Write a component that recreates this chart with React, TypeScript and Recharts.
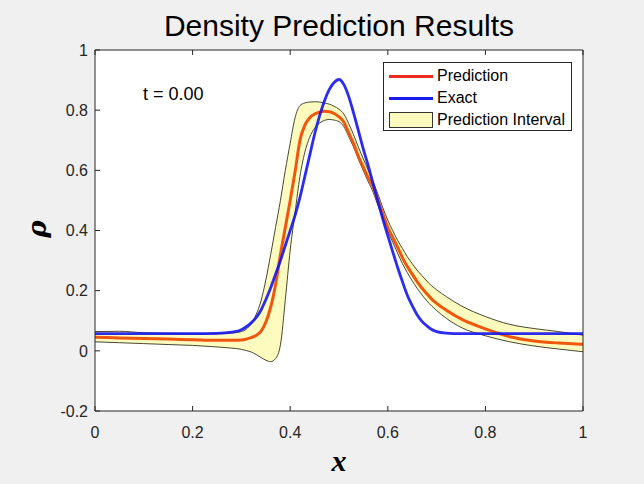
import {
  ComposedChart,
  Line,
  Area,
  XAxis,
  YAxis,
  CartesianGrid,
} from "recharts";

const xs = [
  0, 0.05, 0.1, 0.15, 0.2, 0.25, 0.28,
  0.3, 0.31, 0.32, 0.33, 0.34, 0.35, 0.36, 0.37, 0.38, 0.39,
  0.4, 0.41, 0.42, 0.43, 0.44, 0.45, 0.46, 0.47, 0.48, 0.49,
  0.5, 0.51, 0.52, 0.53, 0.54, 0.55, 0.56, 0.57, 0.58, 0.59,
  0.6, 0.61, 0.62, 0.63, 0.64, 0.65, 0.66, 0.67, 0.68, 0.69,
  0.7, 0.72, 0.75, 0.8, 0.85, 0.9, 0.95, 1,
];

const exact = [
  0.057, 0.057, 0.057, 0.057, 0.057, 0.058, 0.062,
  0.07, 0.08, 0.093, 0.11, 0.135, 0.17, 0.21, 0.255, 0.3, 0.35,
  0.4, 0.45, 0.51, 0.58, 0.65, 0.72, 0.78, 0.83, 0.868, 0.892,
  0.902, 0.885, 0.845, 0.79, 0.73, 0.67, 0.615, 0.555, 0.495, 0.437,
  0.383, 0.33, 0.278, 0.23, 0.185, 0.15, 0.12, 0.098, 0.083, 0.071,
  0.064, 0.059, 0.057, 0.057, 0.057, 0.057, 0.057, 0.057,
];

const prediction = [
  0.045, 0.043, 0.041, 0.039, 0.037, 0.035, 0.035,
  0.036, 0.039, 0.044, 0.051, 0.065, 0.095, 0.145, 0.22, 0.32, 0.41,
  0.5, 0.595, 0.7, 0.75, 0.775, 0.787, 0.793, 0.796, 0.795, 0.789,
  0.778, 0.76, 0.725, 0.688, 0.645, 0.61, 0.575, 0.545, 0.5, 0.455,
  0.41, 0.377, 0.345, 0.31, 0.28, 0.255, 0.23, 0.208, 0.19, 0.172,
  0.158, 0.135, 0.106, 0.073, 0.047, 0.033, 0.026, 0.022,
];

const lower = [
  0.03, 0.027, 0.024, 0.021, 0.018, 0.013, 0.009,
  0.005, 0.001, -0.004, -0.012, -0.022, -0.031, -0.036, -0.026, 0.02, 0.17,
  0.335, 0.46, 0.58, 0.66, 0.71, 0.74, 0.757, 0.766, 0.769, 0.767,
  0.762, 0.745, 0.712, 0.677, 0.636, 0.598, 0.562, 0.527, 0.482, 0.44,
  0.398, 0.362, 0.325, 0.29, 0.26, 0.233, 0.208, 0.186, 0.166, 0.149,
  0.134, 0.108, 0.078, 0.05, 0.03, 0.016, 0.006, -0.003,
];

const upper = [
  0.064, 0.065, 0.06, 0.058, 0.057, 0.057, 0.059,
  0.064, 0.072, 0.09, 0.12, 0.165, 0.235, 0.32, 0.41, 0.5, 0.6,
  0.69, 0.775, 0.815, 0.824, 0.827, 0.828, 0.827, 0.824, 0.82, 0.813,
  0.803, 0.787, 0.755, 0.718, 0.676, 0.638, 0.6, 0.562, 0.52, 0.475,
  0.434, 0.4, 0.368, 0.34, 0.313, 0.29, 0.268, 0.25, 0.232, 0.216,
  0.203, 0.18, 0.15, 0.114, 0.088, 0.074, 0.064, 0.052,
];

const xTicks = [0, 0.2, 0.4, 0.6, 0.8, 1];
const yTicks = [-0.2, 0, 0.2, 0.4, 0.6, 0.8, 1];

const legendItems = ["Prediction", "Exact", "Prediction Interval"];

const data = xs.map((x, i) => ({
  x,
  exact: exact[i],
  pred: prediction[i],
  band: [lower[i], upper[i]],
}));

const FONT = "'Liberation Sans', Arial, Helvetica, sans-serif";
const AXIS = "#262626";
const BAND = "#fefbbf";
const tickStyle = { fontSize: 16, fill: AXIS, fontFamily: FONT };

export default function App() {
  return (
    <div
      style={{
        position: "absolute",
        left: 0,
        top: 0,
        width: 644,
        height: 484,
        background: "#f0f0f0",
        fontFamily: FONT,
      }}
    >
      <ComposedChart
        width={644}
        height={484}
        data={data}
        margin={{ top: 49, right: 60, bottom: 43, left: 55 }}
      >
        <CartesianGrid horizontal={false} vertical={false} fill="#ffffff" />
        <XAxis
          dataKey="x"
          type="number"
          domain={[0, 1]}
          ticks={xTicks}
          height={30}
          stroke={AXIS}
          tickSize={-5}
          tickMargin={21}
          tick={tickStyle}
          allowDataOverflow
        />
        <XAxis
          xAxisId="top"
          orientation="top"
          dataKey="x"
          type="number"
          domain={[0, 1]}
          ticks={xTicks}
          height={1}
          stroke={AXIS}
          tickSize={-5}
          tickFormatter={() => ""}
        />
        <YAxis
          type="number"
          domain={[-0.2, 1]}
          ticks={yTicks}
          width={40}
          stroke={AXIS}
          tickSize={-5}
          tickMargin={12}
          tick={tickStyle}
          allowDataOverflow
        />
        <YAxis
          yAxisId="right"
          orientation="right"
          type="number"
          domain={[-0.2, 1]}
          ticks={yTicks}
          width={1}
          stroke={AXIS}
          tickSize={-5}
          tickFormatter={() => ""}
        />
        <Area
          dataKey="band"
          type="monotone"
          fill={BAND}
          fillOpacity={1}
          stroke="#33331f"
          strokeWidth={0.9}
          isAnimationActive={false}
          dot={false}
          activeDot={false}
        />
        <Line
          dataKey="pred"
          type="monotone"
          stroke="#f2560e"
          strokeWidth={3}
          dot={false}
          activeDot={false}
          isAnimationActive={false}
        />
        <Line
          dataKey="exact"
          type="monotone"
          stroke="#1414f0"
          strokeOpacity={0.9}
          strokeWidth={2.8}
          dot={false}
          activeDot={false}
          isAnimationActive={false}
        />
      </ComposedChart>

      {/* title */}
      <div
        style={{
          position: "absolute",
          left: 95,
          width: 488,
          top: 9,
          textAlign: "center",
          fontSize: 30,
          lineHeight: "34px",
          color: "#000",
          whiteSpace: "nowrap",
        }}
      >
        Density Prediction Results
      </div>

      <div
        style={{
          position: "absolute",
          left: 143,
          top: 84,
          fontSize: 18,
          lineHeight: "20px",
          color: "#000",
        }}
      >
        t = 0.00
      </div>

      <div
        style={{
          position: "absolute",
          left: 95,
          width: 488,
          top: 446,
          textAlign: "center",
          fontFamily: "'Liberation Serif', 'DejaVu Serif', serif",
          fontStyle: "italic",
          fontWeight: "bold",
          fontSize: 30,
          lineHeight: "30px",
          color: "#000",
        }}
      >
        x
      </div>

      <div
        style={{
          position: "absolute",
          left: 22,
          top: 214,
          width: 30,
          height: 30,
          textAlign: "center",
          fontFamily: "'DejaVu Serif', 'Liberation Serif', serif",
          fontStyle: "italic",
          fontWeight: "bold",
          fontSize: 26,
          lineHeight: "30px",
          color: "#000",
          transform: "rotate(-90deg)",
        }}
      >
        ρ
      </div>

      {/* legend */}
      <div
        style={{
          position: "absolute",
          left: 383,
          top: 62,
          width: 187,
          height: 67,
          background: "#ffffff",
          border: "1px solid #262626",
          fontSize: 16,
          color: "#000",
        }}
      >
        {legendItems.map((name, i) => (
          <div
            key={name}
            style={{
              position: "absolute",
              left: 5,
              top: 2 + i * 22,
              height: 22,
              display: "flex",
              alignItems: "center",
              whiteSpace: "nowrap",
            }}
          >
            {i < 2 ? (
              <span
                style={{
                  display: "inline-block",
                  width: 44,
                  height: 3,
                  background: i === 0 ? "#ee2a1e" : "#1a1aee",
                  marginRight: 4,
                }}
              />
            ) : (
              <span
                style={{
                  display: "inline-block",
                  width: 42,
                  height: 14,
                  background: BAND,
                  border: "1px solid #333",
                  marginRight: 4,
                }}
              />
            )}
            <span>{name}</span>
          </div>
        ))}
      </div>
    </div>
  );
}
